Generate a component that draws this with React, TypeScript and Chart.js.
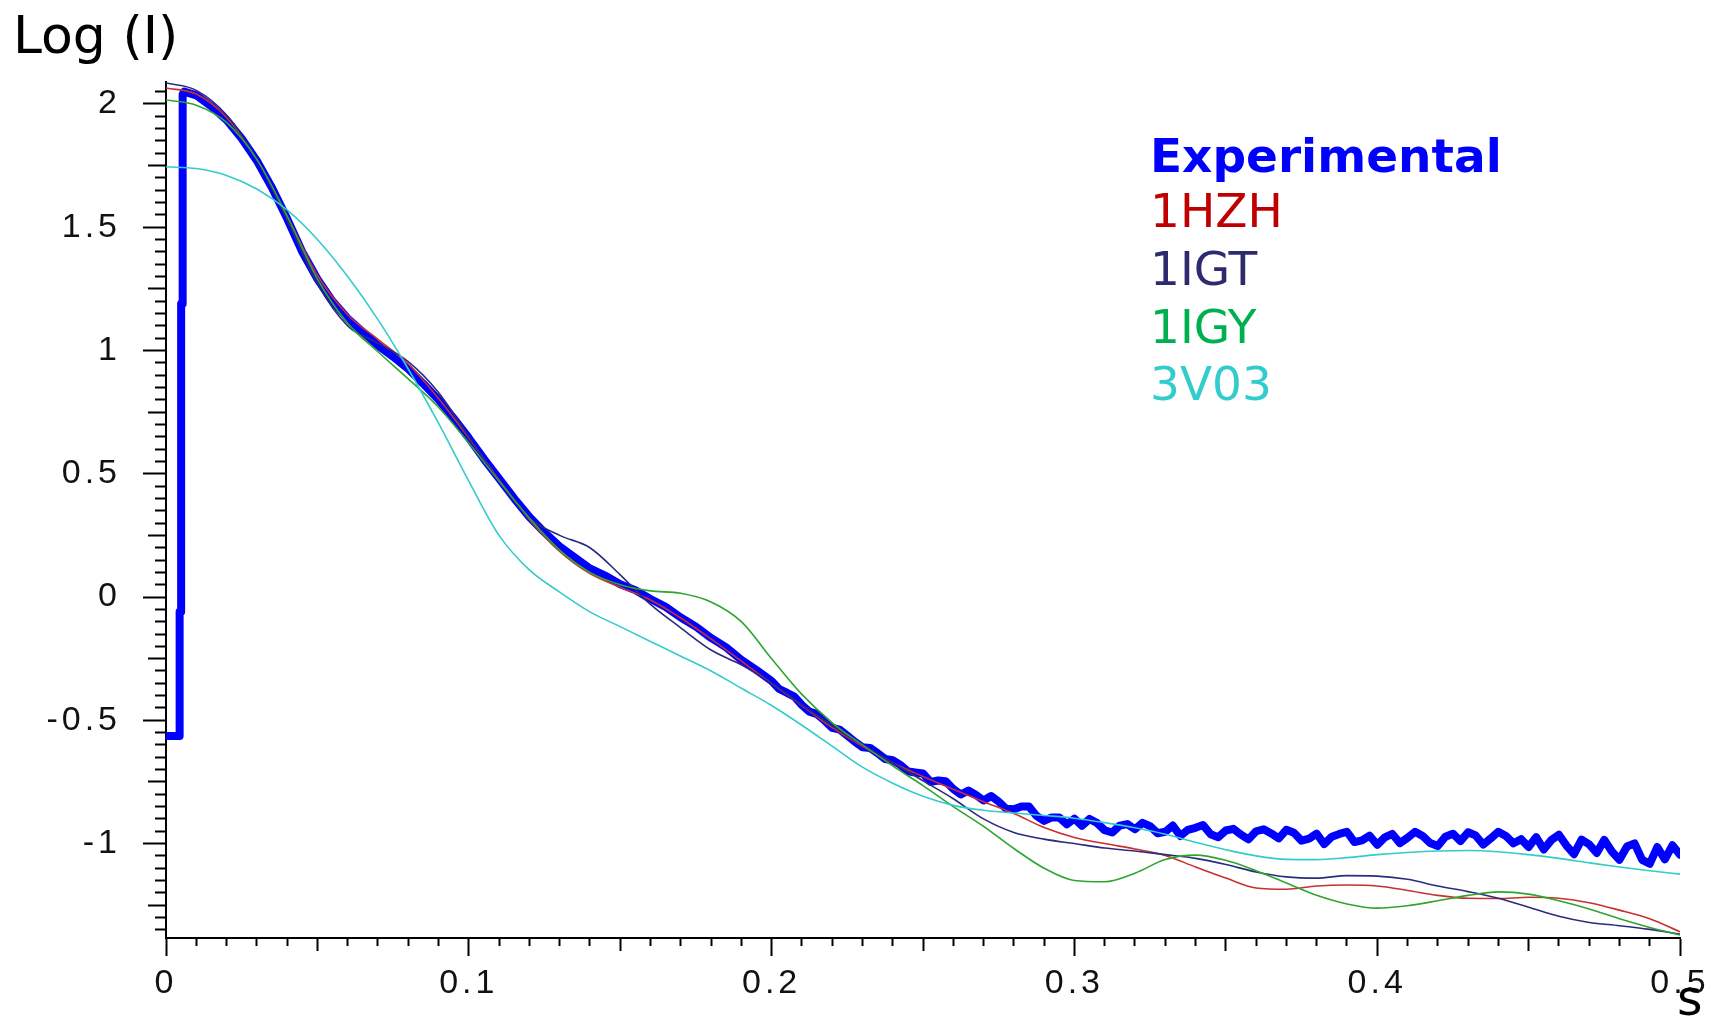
import React, { useEffect, useRef } from 'react';
import { Chart, registerables } from 'chart.js';

Chart.register(...registerables);

// ---------- data ----------
const yTitle = 'Log (I)';
const xTitle = 's';

const seriesNames = ['Experimental', '1HZH', '1IGT', '1IGY', '3V03'];
const legendColors = ['#0000FF', '#C00000', '#2E2A6E', '#00B050', '#33CCCC'];
const lineColors = ['#0000FF', '#C83030', '#2B2B7E', '#2EA52E', '#33CCCC'];

const xTickLabels = ['0', '0.1', '0.2', '0.3', '0.4', '0.5'];
const yTickLabels = ['-1', '-0.5', '0', '0.5', '1', '1.5', '2'];

const modelS = [
  0, 0.01, 0.02, 0.03, 0.04, 0.05, 0.06, 0.07, 0.08, 0.09,
  0.1, 0.11, 0.12, 0.13, 0.14, 0.15, 0.16, 0.17, 0.18, 0.19,
  0.2, 0.21, 0.22, 0.23, 0.24, 0.25, 0.26, 0.27, 0.28, 0.29,
  0.3, 0.31, 0.32, 0.33, 0.34, 0.35, 0.36, 0.37, 0.38, 0.39,
  0.4, 0.41, 0.42, 0.43, 0.44, 0.45, 0.46, 0.47, 0.48, 0.49, 0.5,
];

const hzh = [
  2.065, 2.04, 1.945, 1.775, 1.545, 1.305, 1.145, 1.045, 0.945, 0.805,
  0.645, 0.475, 0.315, 0.185, 0.095, 0.04, -0.012, -0.085, -0.17, -0.26,
  -0.35, -0.44, -0.53, -0.605, -0.672, -0.728, -0.78, -0.83, -0.878, -0.935,
  -0.975, -1.0, -1.022, -1.048, -1.095, -1.14, -1.18, -1.185, -1.172, -1.168,
  -1.172, -1.19, -1.21, -1.222, -1.223, -1.218, -1.222, -1.24, -1.27, -1.305, -1.358,
];

const igt = [
  2.085, 2.055, 1.955, 1.775, 1.53, 1.27, 1.1, 1.03, 0.955, 0.83,
  0.65, 0.47, 0.32, 0.25, 0.2, 0.09, -0.03, -0.125, -0.215, -0.275,
  -0.35, -0.438, -0.522, -0.6, -0.672, -0.745, -0.818, -0.9, -0.955, -0.982,
  -1.0, -1.018, -1.03, -1.045, -1.06, -1.085, -1.115, -1.135, -1.14, -1.13,
  -1.132, -1.145, -1.172, -1.195, -1.222, -1.258, -1.295, -1.32, -1.333, -1.348, -1.367,
];

const igy = [
  2.016, 1.995, 1.925, 1.775, 1.545, 1.29, 1.11, 0.995, 0.885, 0.77,
  0.625, 0.47, 0.32, 0.19, 0.1, 0.05, 0.025, 0.015, -0.02, -0.1,
  -0.25, -0.395, -0.51, -0.6, -0.685, -0.765, -0.85, -0.93, -1.02, -1.1,
  -1.15, -1.155, -1.12, -1.065, -1.047, -1.068, -1.11, -1.16, -1.21, -1.245,
  -1.262, -1.252, -1.232, -1.21, -1.196, -1.205, -1.232, -1.265, -1.305, -1.34, -1.371,
];

const v03 = [
  1.745, 1.738, 1.71, 1.655, 1.57, 1.45, 1.3, 1.125, 0.925, 0.705,
  0.47, 0.25, 0.11, 0.02, -0.06, -0.12, -0.18, -0.24, -0.3, -0.37,
  -0.44, -0.52, -0.605, -0.69, -0.755, -0.808, -0.845, -0.865, -0.876, -0.886,
  -0.897, -0.915, -0.936, -0.962, -0.995, -1.025, -1.05, -1.064, -1.065, -1.057,
  -1.045, -1.036, -1.03, -1.028, -1.033, -1.045, -1.06, -1.078, -1.095, -1.11, -1.124,
];

const expHeadS = [
  0, 0.0045, 0.0045, 0.005, 0.005, 0.0055, 0.0055, 0.006, 0.01, 0.015,
  0.02, 0.025, 0.03, 0.035, 0.04, 0.045, 0.05, 0.055, 0.06, 0.065,
  0.07, 0.075, 0.08, 0.085, 0.09, 0.095, 0.1, 0.105, 0.11, 0.115,
  0.12, 0.125, 0.13, 0.135, 0.14, 0.145, 0.15, 0.155, 0.16, 0.165,
  0.17, 0.175, 0.18, 0.185, 0.19, 0.195,
];
const expHeadI = [
  -0.564, -0.564, -0.06, -0.06, 1.19, 1.19, 2.04, 2.05, 2.035, 1.99,
  1.935, 1.86, 1.77, 1.66, 1.535, 1.4, 1.29, 1.2, 1.13, 1.075,
  1.02, 0.975, 0.925, 0.865, 0.8, 0.725, 0.645, 0.56, 0.48, 0.4,
  0.325, 0.262, 0.205, 0.16, 0.116, 0.087, 0.052, 0.028, -0.008, -0.04,
  -0.083, -0.12, -0.166, -0.204, -0.255, -0.296,
];

const expTailS = [
  0.2, 0.2025, 0.205, 0.2075, 0.21, 0.2125, 0.215, 0.2175, 0.22, 0.2225,
  0.225, 0.2275, 0.23, 0.2325, 0.235, 0.2375, 0.24, 0.2425, 0.245, 0.2475,
  0.25, 0.2525, 0.255, 0.2575, 0.26, 0.2625, 0.265, 0.2675, 0.27, 0.2725,
  0.275, 0.2775, 0.28, 0.2825, 0.285, 0.2875, 0.29, 0.2925, 0.295, 0.2975,
  0.3, 0.3025, 0.305, 0.3075, 0.31, 0.3125, 0.315, 0.3175, 0.32, 0.3225,
  0.325, 0.3275, 0.33, 0.3325, 0.335, 0.3375, 0.34, 0.3425, 0.345, 0.3475,
  0.35, 0.3525, 0.355, 0.3575, 0.36, 0.3625, 0.365, 0.3675, 0.37, 0.3725,
  0.375, 0.3775, 0.38, 0.3825, 0.385, 0.3875, 0.39, 0.3925, 0.395, 0.3975,
  0.4, 0.4025, 0.405, 0.4075, 0.41, 0.4125, 0.415, 0.4175, 0.42, 0.4225,
  0.425, 0.4275, 0.43, 0.4325, 0.435, 0.4375, 0.44, 0.4425, 0.445, 0.4475,
  0.45, 0.4525, 0.455, 0.4575, 0.46, 0.4625, 0.465, 0.4675, 0.47, 0.4725,
  0.475, 0.4775, 0.48, 0.4825, 0.485, 0.4875, 0.49, 0.4925, 0.495, 0.4975, 0.5,
];
const expTailI = [
  -0.341, -0.373, -0.388, -0.404, -0.438, -0.465, -0.475, -0.501, -0.531, -0.538,
  -0.562, -0.587, -0.609, -0.612, -0.633, -0.657, -0.662, -0.681, -0.707, -0.712,
  -0.716, -0.75, -0.744, -0.747, -0.779, -0.801, -0.785, -0.803, -0.825, -0.807,
  -0.83, -0.859, -0.861, -0.85, -0.85, -0.888, -0.908, -0.894, -0.894, -0.922,
  -0.899, -0.928, -0.9, -0.917, -0.946, -0.955, -0.927, -0.921, -0.942, -0.916,
  -0.929, -0.958, -0.952, -0.927, -0.969, -0.944, -0.936, -0.925, -0.962, -0.974,
  -0.947, -0.94, -0.964, -0.983, -0.95, -0.942, -0.959, -0.979, -0.944, -0.956,
  -0.988, -0.98, -0.96, -1.002, -0.972, -0.961, -0.952, -0.994, -0.987, -0.968,
  -1.005, -0.975, -0.961, -0.998, -0.977, -0.952, -0.969, -0.998, -1.01, -0.972,
  -0.96, -0.99, -0.954, -0.967, -1.004, -0.979, -0.952, -0.969, -0.999, -0.982,
  -1.014, -0.974, -1.024, -0.986, -0.964, -1.008, -1.043, -0.984, -1.003, -1.038,
  -0.985, -1.032, -1.066, -1.012, -0.999, -1.066, -1.082, -1.014, -1.064, -1.007, -1.045,
];

// ---------- helpers ----------
const pts = (xs: number[], ys: number[]) => xs.map((x, i) => ({ x, y: ys[i] }));
const isMult = (v: number, step: number) => Math.abs(v / step - Math.round(v / step)) < 1e-6;
const findLabel = (labels: string[], v: number) =>
  labels.find((l) => Math.abs(parseFloat(l) - v) < 1e-6);

export default function App() {
  const canvasRef = useRef<HTMLCanvasElement | null>(null);

  useEffect(() => {
    const canvas = canvasRef.current;
    if (!canvas) return;

    const spacingPlugin = {
      id: 'tickSpacing',
      beforeDraw(chart: any) {
        chart.ctx.letterSpacing = '4px';
      },
      beforeDatasetsDraw(chart: any) {
        chart.ctx.letterSpacing = '0px';
      },
    };

    const textPlugin = {
      id: 'texts',
      afterDraw(chart: any) {
        const ctx = chart.ctx as CanvasRenderingContext2D & { letterSpacing: string };
        ctx.save();
        ctx.letterSpacing = '0px';
        ctx.textAlign = 'left';
        ctx.textBaseline = 'alphabetic';
        ctx.fillStyle = '#000';
        ctx.font = '52px "DejaVu Sans"';
        ctx.fillText(yTitle, 13, 53);
        ctx.font = '49px "DejaVu Sans"';
        ctx.fillText(xTitle, 1677, 1015);
        const baselines = [172, 227, 285, 343, 400];
        seriesNames.forEach((n, i) => {
          ctx.font = (i === 0 ? 'bold ' : '') + '47px "DejaVu Sans"';
          ctx.fillStyle = legendColors[i];
          ctx.fillText(n, 1150, baselines[i]);
        });
        ctx.restore();
      },
    };

    const model = (i: number, data: number[]) => ({
      label: seriesNames[i],
      data: pts(modelS, data),
      borderColor: lineColors[i],
      borderWidth: 1.6,
      pointRadius: 0,
      cubicInterpolationMode: 'monotone' as const,
      order: 5 - i,
    });

    const chart = new Chart(canvas, {
      type: 'line',
      data: {
        datasets: [
          model(1, hzh),
          model(2, igt),
          model(3, igy),
          model(4, v03),
          {
            label: seriesNames[0],
            data: [...pts(expHeadS, expHeadI), ...pts(expTailS, expTailI)],
            borderColor: lineColors[0],
            borderWidth: 8,
            pointRadius: 0,
            tension: 0,
            borderJoinStyle: 'round',
            borderCapStyle: 'round',
            order: 10,
          },
        ],
      },
      options: {
        animation: false,
        responsive: true,
        maintainAspectRatio: false,
        parsing: false,
        layout: { padding: { left: 0, right: 34, top: 82, bottom: 0 } },
        plugins: { legend: { display: false }, tooltip: { enabled: false } },
        scales: {
          x: {
            type: 'linear',
            min: 0,
            max: 0.5,
            afterFit: (s: any) => {
              s.height = 80;
            },
            border: { display: true, color: '#000', width: 2 },
            grid: {
              drawOnChartArea: false,
              drawTicks: true,
              tickLength: 18,
              tickWidth: 2,
              tickColor: '#000',
              tickBorderDash: (ctx: any) => {
                const v = ctx.tick ? ctx.tick.value : 0;
                if (isMult(v, 0.1)) return [];
                if (isMult(v, 0.05)) return [12, 100];
                return [7, 100];
              },
            },
            ticks: {
              stepSize: 0.01,
              includeBounds: false,
              autoSkip: false,
              maxRotation: 0,
              padding: 7,
              color: '#111',
              font: { family: '"Liberation Sans", Arial, sans-serif', size: 34 },
              callback: (v: any) => (isMult(Number(v), 0.1) ? findLabel(xTickLabels, Number(v)) ?? '' : ''),
            },
          },
          y: {
            type: 'linear',
            min: -1.383,
            max: 2.089,
            afterFit: (s: any) => {
              s.width = 166;
            },
            border: { display: true, color: '#000', width: 2 },
            grid: {
              drawOnChartArea: false,
              drawTicks: true,
              tickLength: 23,
              tickWidth: 2,
              tickColor: '#000',
              tickBorderDash: (ctx: any) => {
                const v = ctx.tick ? ctx.tick.value : 0;
                if (isMult(v, 0.5)) return [];
                if (isMult(v, 0.25)) return [0, 5, 18, 100];
                return [0, 12, 11, 100];
              },
            },
            ticks: {
              stepSize: 0.05,
              includeBounds: false,
              autoSkip: false,
              padding: 22,
              color: '#111',
              font: { family: '"Liberation Sans", Arial, sans-serif', size: 34 },
              callback: (v: any) => (isMult(Number(v), 0.5) ? findLabel(yTickLabels, Number(v)) ?? '' : ''),
            },
          },
        },
      },
      plugins: [spacingPlugin, textPlugin],
    } as any);

    return () => chart.destroy();
  }, []);

  return (
    <div
      style={{
        position: 'fixed',
        left: 0,
        top: 0,
        width: '1714px',
        height: '1018px',
        background: '#fff',
      }}
    >
      <canvas ref={canvasRef} />
    </div>
  );
}
